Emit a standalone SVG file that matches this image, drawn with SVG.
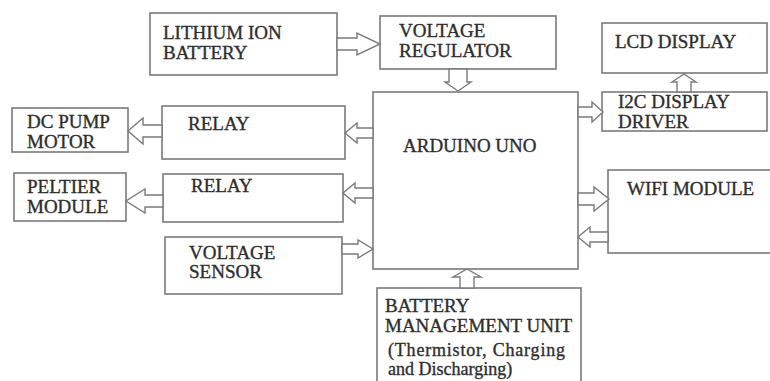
<svg xmlns="http://www.w3.org/2000/svg" width="770" height="381" viewBox="0 0 770 381">
<style>
.box{fill:#fff;stroke:#7a7a7a;stroke-width:1.6}
.arr{fill:#fff;stroke:#7a7a7a;stroke-width:1.4;stroke-linejoin:miter}
text{font-family:"Liberation Serif","Times New Roman",serif;font-size:19px;fill:#2e2e2e;stroke:#2e2e2e;stroke-width:0.35}
.sm{font-size:18px}
</style>
<rect width="770" height="381" fill="#fff"/>
<g id="lithium"><rect class="box" x="150" y="13" width="187" height="62"/><text x="163" y="39">LITHIUM ION</text><text x="163" y="59">BATTERY</text></g>
<g id="regulator"><rect class="box" x="380" y="16" width="176" height="53"/><text x="399" y="37">VOLTAGE</text><text x="399" y="57">REGULATOR</text></g>
<g id="lcd"><rect class="box" x="602" y="23" width="165" height="50"/><text x="615" y="48">LCD DISPLAY</text></g>
<g id="i2c"><rect class="box" x="602" y="92" width="165" height="39"/><text x="618" y="108">I2C DISPLAY</text><text x="618" y="128">DRIVER</text></g>
<g id="arduino"><rect class="box" x="373" y="92" width="205" height="177"/><text x="403" y="152">ARDUINO UNO</text></g>
<g id="wifi"><rect class="box" x="608" y="170" width="170" height="83"/><text x="627" y="195">WIFI MODULE</text></g>
<g id="bmu"><rect class="box" x="377" y="288" width="204" height="110"/><text x="385" y="312">BATTERY</text><text x="385" y="332">MANAGEMENT UNIT</text><text class="sm" x="388" y="356" textLength="177">(Thermistor, Charging</text><text class="sm" x="388" y="375">and Discharging)</text></g>
<g id="dcpump"><rect class="box" x="12" y="108" width="116" height="44"/><text x="27" y="128">DC PUMP</text><text x="27" y="148">MOTOR</text></g>
<g id="relay1"><rect class="box" x="162" y="106" width="183" height="53"/><text x="188" y="130">RELAY</text></g>
<g id="peltier"><rect class="box" x="14" y="173" width="112" height="48"/><text x="27" y="193">PELTIER</text><text x="27" y="213">MODULE</text></g>
<g id="relay2"><rect class="box" x="163" y="174" width="180" height="48"/><text x="191" y="192">RELAY</text></g>
<g id="vsensor"><rect class="box" x="165" y="237" width="177" height="57"/><text x="189" y="259">VOLTAGE</text><text x="189" y="278">SENSOR</text></g>
<g id="connectors">
<path class="arr" d="M337,38 L357,38 L357,33 L380,44 L357,55 L357,50 L337,50 Z"/>
<path class="arr" d="M449,69 L449,82 L445,82 L458,91 L471,82 L467,82 L467,69 Z"/>
<path class="arr" d="M677,92 L677,82 L672,82 L684,74 L696,82 L691,82 L691,92 Z"/>
<path class="arr" d="M578,107 L592,107 L592,102 L603,112 L592,122 L592,117 L578,117 Z"/>
<path class="arr" d="M578,193 L594,193 L594,187 L609,199 L594,211 L594,205 L578,205 Z"/>
<path class="arr" d="M608,232 L590,232 L590,227 L578,237 L590,247 L590,242 L608,242 Z"/>
<path class="arr" d="M460,288 L460,277 L453,277 L467,269 L481,277 L474,277 L474,288 Z"/>
<path class="arr" d="M373,128 L357,128 L357,123 L345,133 L357,143 L357,138 L373,138 Z"/>
<path class="arr" d="M162,125 L143,125 L143,118 L128,131 L143,144 L143,137 L162,137 Z"/>
<path class="arr" d="M373,188 L355,188 L355,183 L343,193 L355,203 L355,198 L373,198 Z"/>
<path class="arr" d="M163,195 L145,195 L145,189 L126,201 L145,213 L145,207 L163,207 Z"/>
<path class="arr" d="M342,244 L358,244 L358,240 L373,249 L358,258 L358,254 L342,254 Z"/>
</g>
</svg>
